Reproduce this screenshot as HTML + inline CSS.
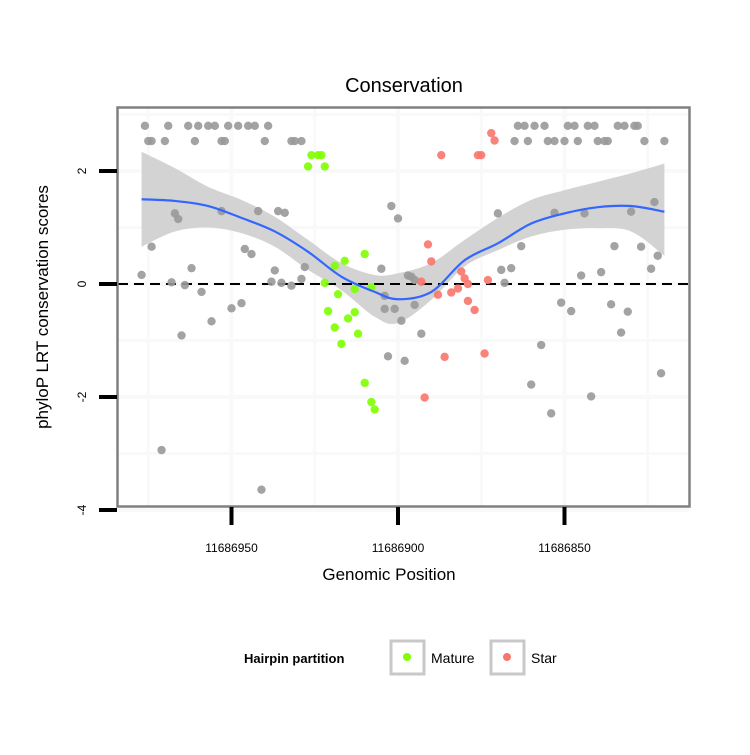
<!DOCTYPE html>
<html><head><meta charset="utf-8"><style>
body{margin:0;background:#fff;}
svg text{font-family:"Liberation Sans",sans-serif;}
</style></head><body>
<svg id="chart" width="750" height="750" xmlns="http://www.w3.org/2000/svg">
<rect width="750" height="750" fill="#fff"/>
<text x="404" y="92" font-size="20" text-anchor="middle">Conservation</text>
<g id="grid"></g>
<g id="band"></g>
<line x1="118" x2="689" y1="284" y2="284" stroke="#000" stroke-width="2" stroke-dasharray="10,6"/>
<g id="pts"></g>
<g id="fitline"></g>
<rect x="117.5" y="107.5" width="572" height="399" fill="none" stroke="#808080" stroke-width="2.5"/>
<g id="axes"></g>
<text x="389" y="580" font-size="17" text-anchor="middle">Genomic Position</text>
<text transform="translate(48,307) rotate(-90)" font-size="17" text-anchor="middle">phyloP LRT conservation scores</text>
<g>
<text x="244" y="663" font-size="13" font-weight="bold">Hairpin partition</text>
<g>
<rect x="391" y="641" width="33" height="33" fill="#fff" stroke="#c8c8c8" stroke-width="3"/>
<circle cx="407" cy="657" r="4" fill="#7fff00"/>
<text x="431" y="663" font-size="14">Mature</text></g>
<g>
<rect x="491" y="641" width="33" height="33" fill="#fff" stroke="#c8c8c8" stroke-width="3"/>
<circle cx="507" cy="657" r="4" fill="#f8766d"/>
<text x="531" y="663" font-size="14">Star</text></g>
</g>
</svg>
<script>
const BASE = 11686900;
const grayPos = [76,69,63,60,57,55,51,48,45,43,39,-36,-38,-41,-44,-51,-53,-57,-59,-66,-68,-71,-72,
 75,74,70,61,53,52,40,32,31,29,-35,-39,-45,-47,-50,-54,-60,-62,-63,-74,-80,
 67,66,74,53,42,36,34,46,44,62,37,28,29,5,2,0,77,68,64,59,38,35,32,4,-3,50,47,56,65,71,41,4,1,-1,3,-2,
 -30,-47,-56,-70,-77,-37,-65,-73,-78,-31,-34,-55,-61,-76,-4,-5,-32,-49,-52,-64,-69,-67,-5,-7,-43,-40,-58,-46,-79];
const grayVal = [2.8,2.8,2.8,2.8,2.8,2.8,2.8,2.8,2.8,2.8,2.8,2.8,2.8,2.8,2.8,2.8,2.8,2.8,2.8,2.8,2.8,2.8,2.8,
 2.53,2.53,2.53,2.53,2.53,2.53,2.53,2.53,2.53,2.53,2.53,2.53,2.53,2.53,2.53,2.53,2.53,2.53,2.53,2.53,2.53,
 1.25,1.15,0.66,1.29,1.29,1.29,1.26,0.62,0.53,0.28,0.24,0.30,0.09,0.27,1.38,1.16,0.16,0.03,-0.02,-0.14,0.04,0.02,-0.03,-0.21,0.15,-0.43,-0.34,-0.66,-0.91,-2.94,-3.64,-0.44,-0.44,-0.65,-1.28,-1.36,
 1.25,1.26,1.25,1.28,1.45,0.67,0.67,0.66,0.50,0.25,0.28,0.15,0.21,0.27,0.13,0.07,0.02,-0.33,-0.48,-0.36,-0.49,-0.86,-0.37,-0.88,-1.08,-1.78,-1.99,-2.29,-1.58];
const maturePos = [26,24,23,27,22,19,16,10,22,18,13,8,21,19,15,13,12,17,10,8,7];
const matureVal = [2.28,2.28,2.28,2.08,2.08,0.32,0.41,0.53,0.02,-0.18,-0.09,-0.06,-0.48,-0.77,-0.61,-0.50,-0.88,-1.06,-1.75,-2.09,-2.22];
const starPos = [-28,-29,-13,-24,-25,-9,-10,-27,-7,-19,-20,-21,-16,-18,-12,-21,-23,-14,-26,-8];
const starVal = [2.67,2.54,2.28,2.28,2.28,0.70,0.40,0.07,0.04,0.22,0.10,0.00,-0.15,-0.08,-0.19,-0.30,-0.46,-1.29,-1.23,-2.01];
const fitPos = [77,67,57,47,37,27,17,7,0,-10,-20,-30,-40,-50,-60,-70,-80];
const fitVal = [1.50,1.47,1.38,1.17,0.93,0.57,0.13,-0.14,-0.27,-0.14,0.42,0.72,1.07,1.25,1.36,1.38,1.28];
const fitUpper = [2.34,2.05,1.72,1.49,1.19,0.78,0.37,0.16,0.19,0.37,0.78,1.17,1.49,1.66,1.81,1.96,2.13];
const fitLower = [0.66,0.93,1.00,0.90,0.66,0.25,-0.11,-0.58,-0.69,-0.28,0.31,0.60,0.84,0.96,0.99,0.93,0.50];
const xTicks = [11686950,11686900,11686850];
const xMinor = [11686975,11686925,11686875,11686825];
const yTicks = [2,0,-2,-4];
const yMinor = [3,1,-1,-3];

const NS = "http://www.w3.org/2000/svg";
const xs = pos => 398 - (pos - BASE) * 3.33;
const ys = v => 284 - v * 56.5;
function mk(tag, attrs, parent){const e=document.createElementNS(NS,tag);for(const k in attrs)e.setAttribute(k,attrs[k]);parent.appendChild(e);return e;}
const grid=document.getElementById('grid'), axes=document.getElementById('axes');
xTicks.concat(xMinor).forEach(t=>{const l=mk('line',{x1:xs(t),x2:xs(t),y1:108,y2:506,stroke:'#f9f9f9','stroke-width':xTicks.includes(t)?4:3},grid);

});
yTicks.concat(yMinor).forEach(t=>{const l=mk('line',{x1:118,x2:689,y1:ys(t),y2:ys(t),stroke:'#f9f9f9','stroke-width':yTicks.includes(t)?4:3},grid);

});
xTicks.forEach(t=>{const x=xs(t);
const l=mk('line',{x1:x,x2:x,y1:507,y2:525,stroke:'#000','stroke-width':4},axes);


const tx=mk('text',{x:x,y:552,'font-size':12,'text-anchor':'middle'},axes);tx.textContent=t;

});
yTicks.forEach(t=>{const y=ys(t);
const l=mk('line',{x1:99,x2:117,y1:y,y2:y,stroke:'#000','stroke-width':4},axes);


const tx=mk('text',{transform:`translate(86,${y}) rotate(-90)`,'font-size':12,'text-anchor':'middle'},axes);tx.textContent=t;

});
function smoothPath(px,py){let d=`M${px[0]},${py[0]}`;for(let i=0;i<px.length-1;i++){const p0=i?i-1:i,p3=i+2<px.length?i+2:i+1;
const c1x=px[i]+(px[i+1]-px[p0])/6,c1y=py[i]+(py[i+1]-py[p0])/6,c2x=px[i+1]-(px[p3]-px[i])/6,c2y=py[i+1]-(py[p3]-py[i])/6;
d+=` C${c1x},${c1y} ${c2x},${c2y} ${px[i+1]},${py[i+1]}`;}return d;}
const fx=fitPos.map(p=>xs(BASE+p));
const up=smoothPath(fx,fitUpper.map(ys));
const lowRevX=fx.slice().reverse(), lowRevY=fitLower.map(ys).reverse();
const low=smoothPath(lowRevX,lowRevY).replace(/^M/,' L');
const band=mk('path',{d:up+low+' Z',fill:'#d3d3d3','fill-opacity':1},document.getElementById('band'));


const pts=document.getElementById('pts');
function drawPts(P,V,col,name){P.forEach((p,i)=>{const c=mk('circle',{cx:xs(BASE+p),cy:ys(V[i]),r:4.2,fill:col,'fill-opacity':0.9},pts);

});}
drawPts(grayPos,grayVal,'#999999','point-other');
drawPts(maturePos,matureVal,'#7fff00','point-mature');
drawPts(starPos,starVal,'#f8766d','point-star');
const fl=mk('path',{d:smoothPath(fx,fitVal.map(ys)),fill:'none',stroke:'#3366ff','stroke-width':2.2},document.getElementById('fitline'));


</script>
</body></html>
